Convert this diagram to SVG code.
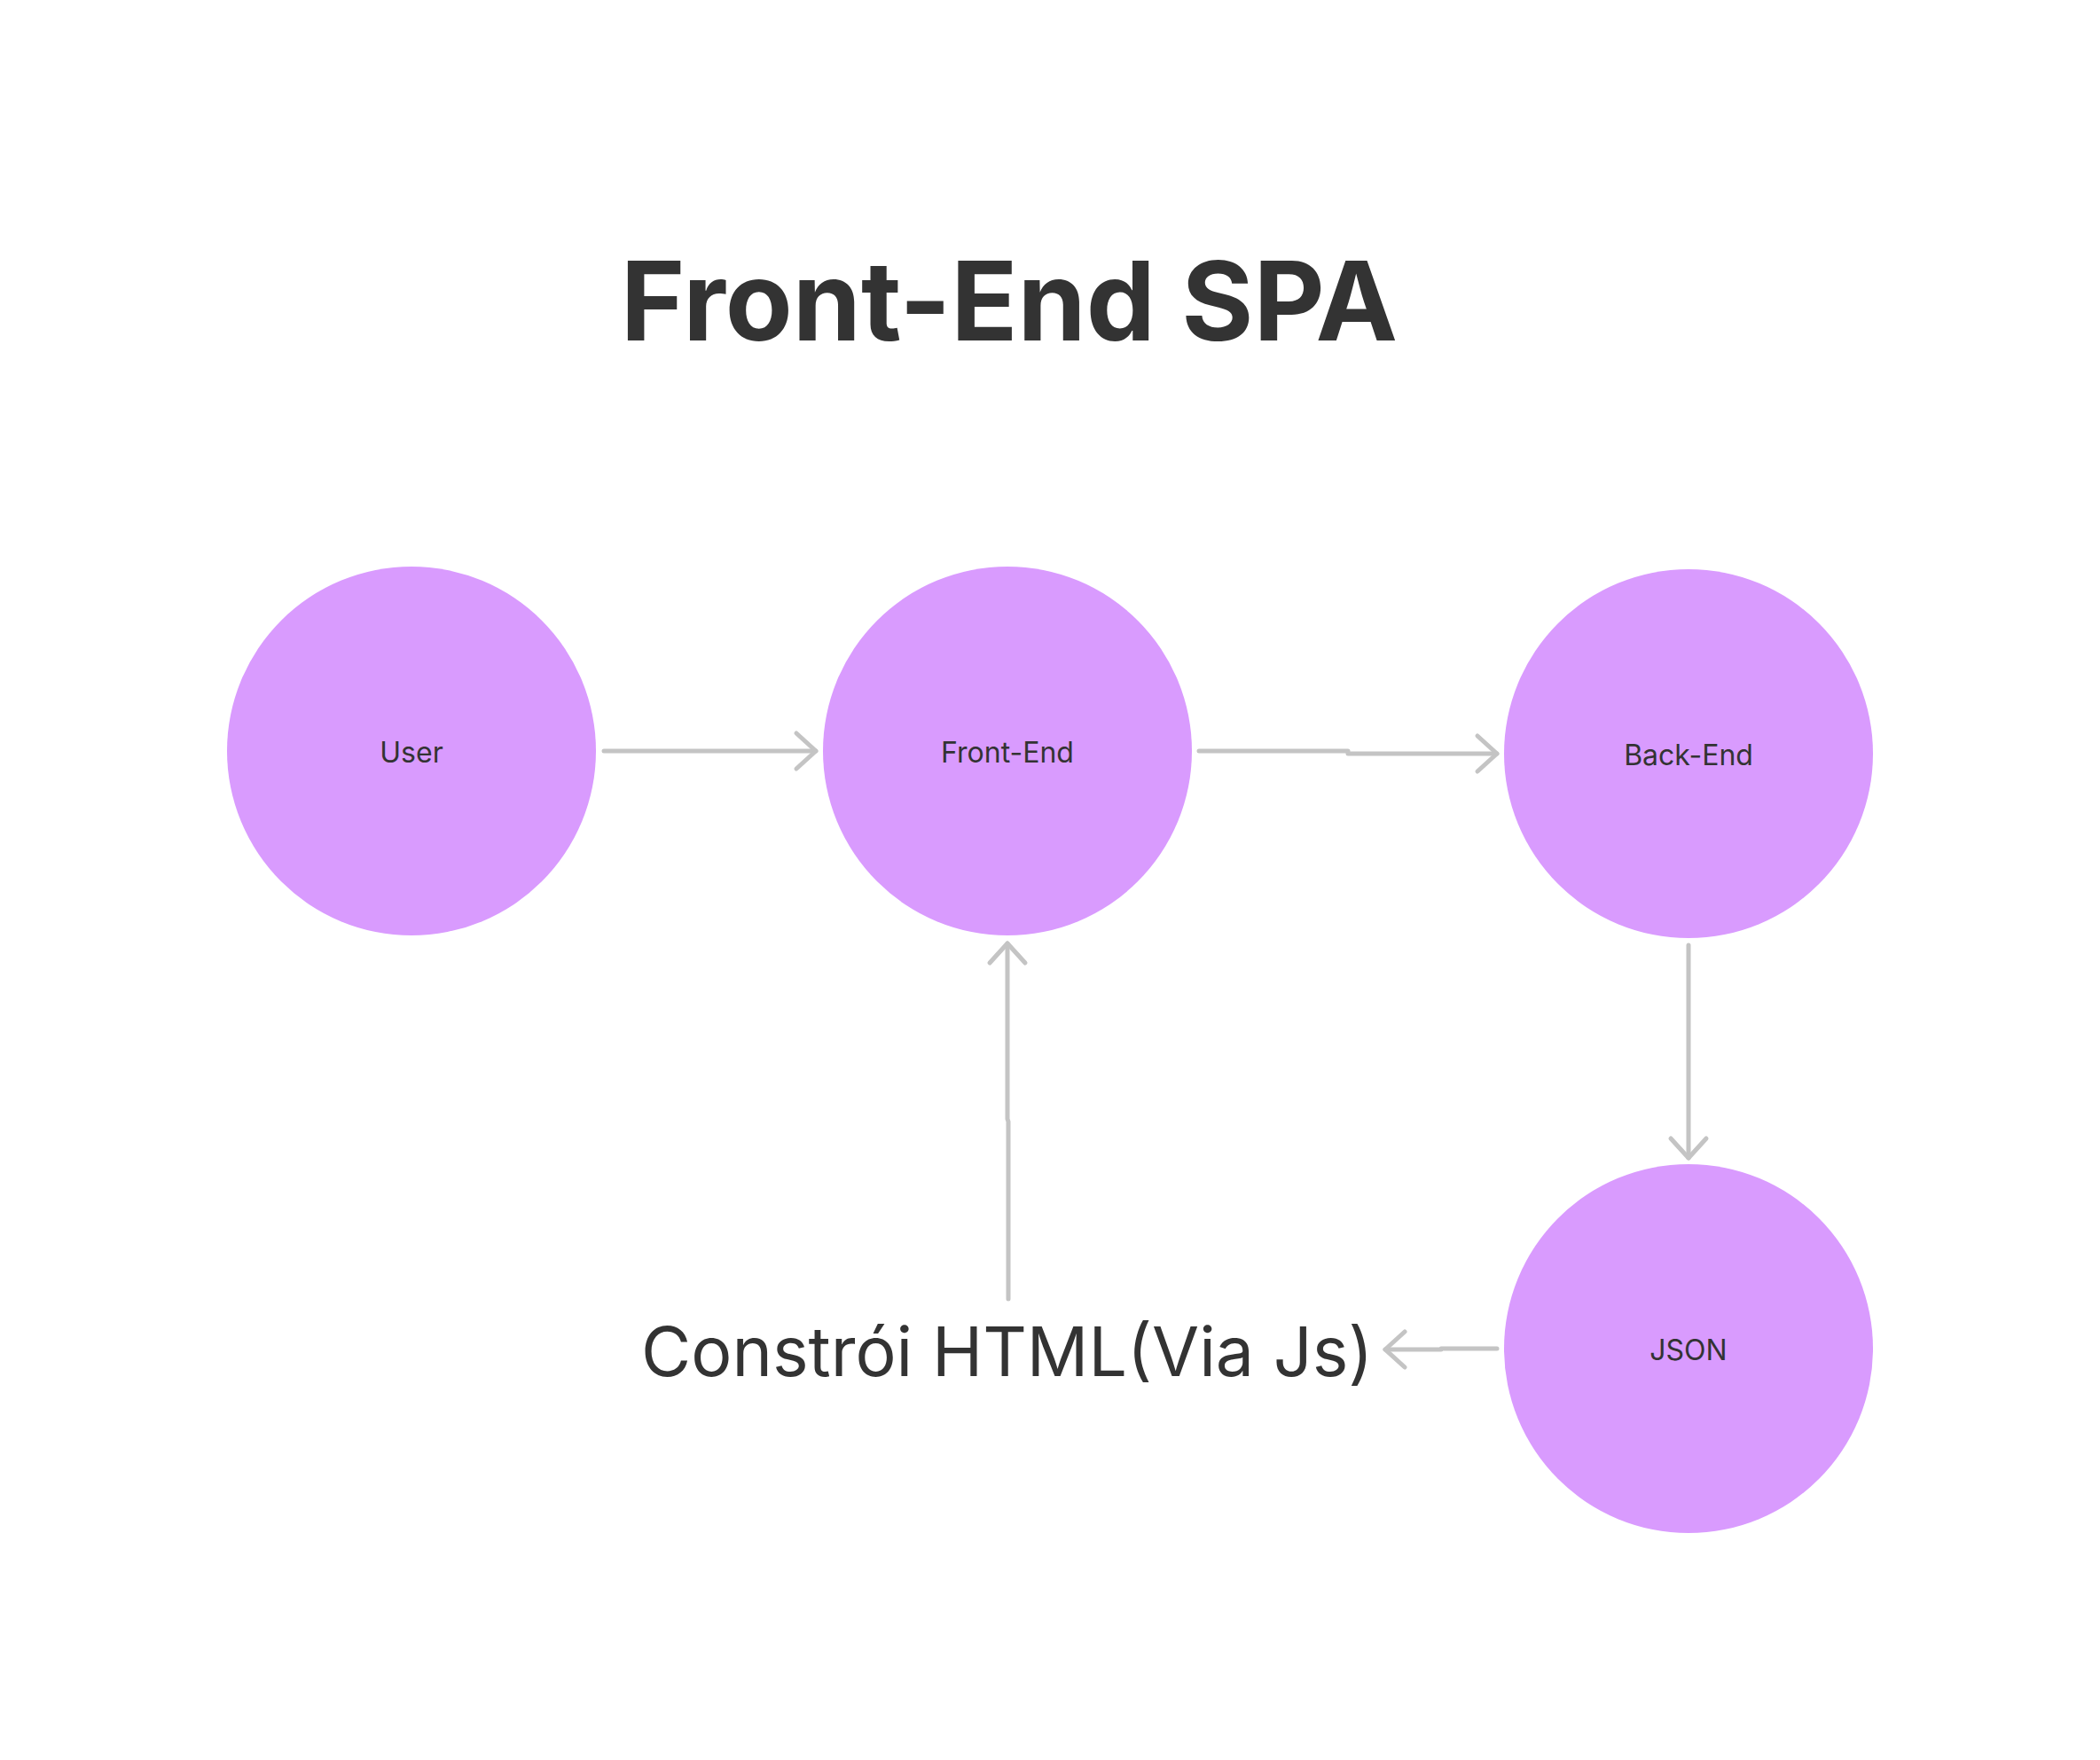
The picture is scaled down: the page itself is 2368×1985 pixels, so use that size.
<svg xmlns="http://www.w3.org/2000/svg" width="2368" height="1985" viewBox="0 0 2368 1985">
<style>
.node{fill:#D99BFE}
.lbl{font-family:Inter,"Liberation Sans",sans-serif;font-size:32px;fill:#333333;text-anchor:middle}
.edge{fill:none;stroke:#C4C4C4;stroke-width:5;stroke-linecap:round;stroke-linejoin:round}
.title{font-family:Inter,"Liberation Sans",sans-serif;font-weight:700;font-size:124px;fill:#333333;text-anchor:middle}
.note{font-family:Inter,"Liberation Sans",sans-serif;font-size:77px;fill:#333333}
</style>
<defs>
<marker id="arr" markerUnits="userSpaceOnUse" viewBox="-30 -30 40 60" refX="0" refY="0" markerWidth="40" markerHeight="60" orient="auto">
<path d="M -22 -20 L 0 0 L -22 20" fill="none" stroke="#C4C4C4" stroke-width="5" stroke-linecap="round" stroke-linejoin="round"/>
</marker>
</defs>
<rect width="2368" height="1985" fill="#FFFFFF"/>
<text class="title" x="1138" y="384">Front-End SPA</text>
<g id="connectors">
<polyline class="edge" points="681,847 920,847" marker-end="url(#arr)"/>
<polyline class="edge" points="1352,847 1520,847 1520,850 1688,850" marker-end="url(#arr)"/>
<polyline class="edge" points="1904,1066 1904,1306" marker-end="url(#arr)"/>
<polyline class="edge" points="1688,1521 1625,1521 1625,1522 1562,1522" marker-end="url(#arr)"/>
<polyline class="edge" points="1137,1465 1137,1265 1136,1262 1136,1064" marker-end="url(#arr)"/>
</g>
<g id="user"><circle class="node" cx="464" cy="847" r="208"/><text class="lbl" x="464" y="860">User</text></g>
<g id="frontend"><circle class="node" cx="1136" cy="847" r="208"/><text class="lbl" x="1136" y="860">Front-End</text></g>
<g id="backend"><circle class="node" cx="1904" cy="850" r="208"/><text class="lbl" x="1904" y="863">Back-End</text></g>
<g id="json"><circle class="node" cx="1904" cy="1521" r="208"/><text class="lbl" x="1904" y="1534">JSON</text></g>
<g id="note"><text class="note" x="723" y="1552">Constrói HTML(Via Js)</text></g>
</svg>
